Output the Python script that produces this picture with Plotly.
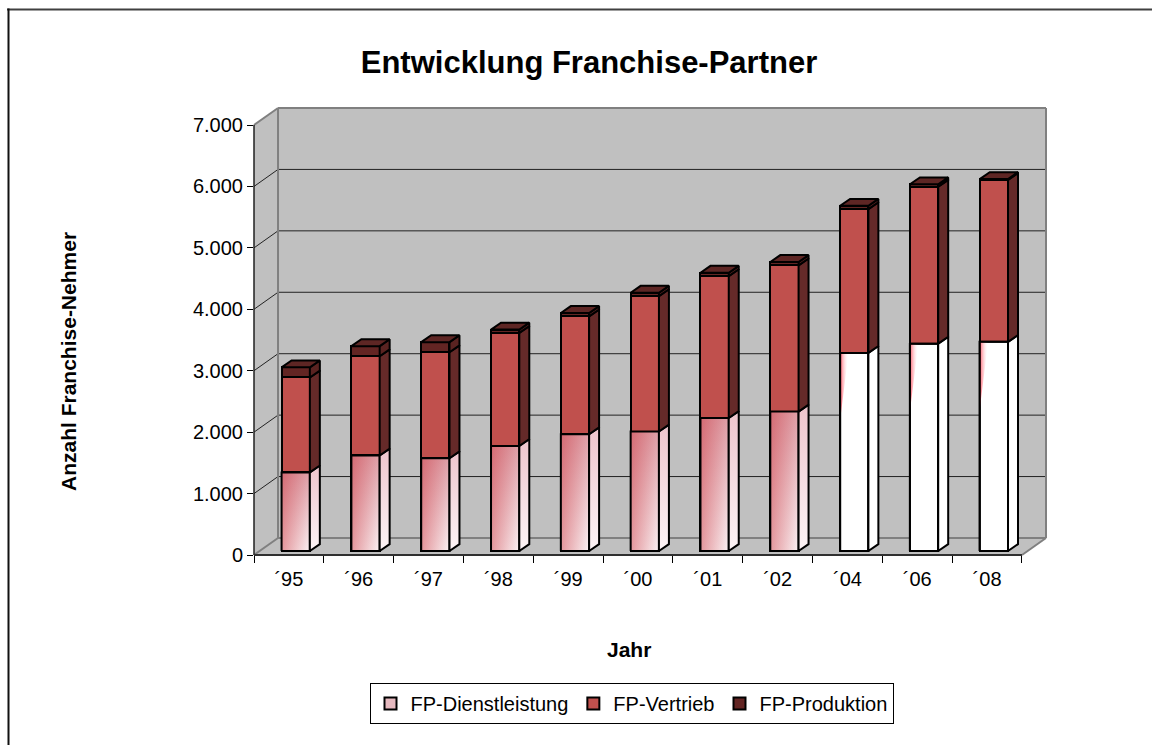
import plotly.graph_objects as go

# ---------------- data ----------------
years = ["´95", "´96", "´97", "´98", "´99", "´00", "´01", "´02", "´04", "´06", "´08"]
dienstleistung = [1280, 1555, 1510, 1710, 1900, 1945, 2165, 2270, 3225, 3375, 3405]
vertrieb = [1545, 1615, 1725, 1840, 1920, 2205, 2310, 2380, 2340, 2555, 2635]
produktion = [165, 165, 165, 55, 55, 55, 55, 55, 55, 40, 15]
series_names = ["FP-Dienstleistung", "FP-Vertrieb", "FP-Produktion"]
y_ticks = [0, 1000, 2000, 3000, 4000, 5000, 6000, 7000]

# face style of the Dienstleistung columns (gradient vs. plain white)
face_style = ["gradient"] * 8 + ["white"] * 3

# ---------------- geometry / style ----------------
FONT = "Liberation Sans, Arial, sans-serif"
W, H = 1152, 745
ML, MT = 254, 108
MR = W - 1046
MB = H - 555
PW, PH = W - ML - MR, H - MT - MB

XR = [-0.5, 10.844]          # category units (front plane)
YR = [0, 7277]               # value units (front plane)
LIFT = 65                    # bar plane is slightly behind the front plane
BAR_OFF, BAR_W = -0.105, 0.405
SDX, SDY = 0.143, 112        # bar depth (side / top faces)
DX, DY = 0.344, 277          # full box depth
FL, FR = -0.5, len(years) - 0.5
TOP = y_ticks[-1]

WALL = "#c0c0c0"
EDGE = "#808080"


def xp(u):
    return (u - XR[0]) / (XR[1] - XR[0])


def yp(v):
    return (v - YR[0]) / (YR[1] - YR[0])


def pgx(px):   # page pixel -> paper
    return (px - ML) / PW


def pgy(py):
    return (H - MB - py) / PH


def path(pts):
    return "M " + " L ".join(f"{xp(a):.5f},{yp(b):.5f}" for a, b in pts) + " Z"


def seg(a, b, color, width):
    return dict(type="line", xref="paper", yref="paper", layer="below",
                x0=xp(a[0]), y0=yp(a[1]), x1=xp(b[0]), y1=yp(b[1]),
                line=dict(color=color, width=width))


shapes = []
# walls
shapes.append(dict(type="path", xref="paper", yref="paper", layer="below",
                   path=path([(FL + DX, DY), (FR + DX, DY), (FR + DX, TOP + DY), (FL + DX, TOP + DY)]),
                   fillcolor=WALL, line=dict(width=0)))
shapes.append(dict(type="path", xref="paper", yref="paper", layer="below",
                   path=path([(FL, 0), (FL + DX, DY), (FL + DX, TOP + DY), (FL, TOP)]),
                   fillcolor=WALL, line=dict(width=0)))
shapes.append(dict(type="path", xref="paper", yref="paper", layer="below",
                   path=path([(FL, 0), (FR, 0), (FR + DX, DY), (FL + DX, DY)]),
                   fillcolor=WALL, line=dict(width=0)))
# gridlines
for v in y_ticks[1:-1]:
    shapes.append(seg((FL + DX, v + DY), (FR + DX, v + DY), "#222222", 1))
    shapes.append(seg((FL, v), (FL + DX, v + DY), "#222222", 1))
# grey edges
shapes.append(seg((FL + DX, TOP + DY), (FR + DX, TOP + DY), EDGE, 2))
shapes.append(seg((FR + DX, DY), (FR + DX, TOP + DY), EDGE, 2))
shapes.append(seg((FL + DX, DY), (FL + DX, TOP + DY), EDGE, 2))
shapes.append(seg((FL + DX, DY), (FR + DX, DY), EDGE, 2))
shapes.append(seg((FL, TOP), (FL + DX, TOP + DY), EDGE, 2))
shapes.append(seg((FL, 0), (FL + DX, DY), EDGE, 2))
shapes.append(seg((FR, 0), (FR + DX, DY), EDGE, 2))
# dark front edges
shapes.append(seg((FL, 0), (FL, TOP), "#202020", 1.5))
shapes.append(seg((FL, 0), (FR, 0), "#303030", 2))

# chart frame (top / left)
shapes.append(dict(type="line", xref="paper", yref="paper", layer="above",
                   x0=pgx(7), x1=pgx(W), y0=pgy(9.5), y1=pgy(9.5),
                   line=dict(color="#404040", width=2)))
shapes.append(dict(type="line", xref="paper", yref="paper", layer="above",
                   x0=pgx(8.5), x1=pgx(8.5), y0=pgy(8.5), y1=pgy(H),
                   line=dict(color="#111111", width=2)))

fig = go.Figure()

idx = list(range(len(years)))
d_colors = ["#e6b9bf" if s == "gradient" else "#ffffff" for s in face_style]

# front-plane category axis carrier (no visible marks)
fig.add_trace(go.Scatter(x=years, y=[None] * len(years), mode="lines",
                         showlegend=False, hoverinfo="skip"))

fig.add_trace(go.Bar(x=idx, y=dienstleistung, name=series_names[0],
                     marker=dict(color=d_colors, line=dict(color="black", width=2)),
                     offset=BAR_OFF, width=BAR_W, xaxis="x2", yaxis="y2",
                     hoverinfo="skip"))
fig.add_trace(go.Bar(x=idx, y=vertrieb, name=series_names[1],
                     marker=dict(color="#c0504d", line=dict(color="black", width=2)),
                     offset=BAR_OFF, width=BAR_W, xaxis="x2", yaxis="y2",
                     hoverinfo="skip"))
fig.add_trace(go.Bar(x=idx, y=produktion, name=series_names[2],
                     marker=dict(color="#632523", line=dict(color="black", width=2)),
                     offset=BAR_OFF, width=BAR_W, xaxis="x2", yaxis="y2",
                     hoverinfo="skip"))


def poly(xs, ys, **kw):
    return go.Scatter(x=xs, y=ys, mode="lines", fill="toself", xaxis="x2", yaxis="y2",
                      showlegend=False, hoverinfo="skip", **kw)


# gradient front faces of Dienstleistung
for i, d in enumerate(dienstleistung):
    xl = i + BAR_OFF
    xr = xl + BAR_W
    xs = [xl, xr, xr, xl, xl]
    ys = [0, 0, d, d, 0]
    if face_style[i] == "gradient":
        fig.add_trace(poly(xs, ys, line=dict(color="black", width=0.1),
                           fillgradient=dict(type="vertical", start=0, stop=d,
                                             colorscale=[[0, "rgb(250,242,244)"],
                                                         [1, "rgb(222,160,168)"]])))
        fig.add_trace(poly(xs, ys, line=dict(color="black", width=2),
                           fillgradient=dict(type="horizontal", start=xl, stop=xr,
                                             colorscale=[[0, "rgba(200,40,50,0.45)"],
                                                         [1, "rgba(200,40,50,0)"]])))
    else:
        fig.add_trace(poly(xs, ys, line=dict(color="black", width=2), fillcolor="white"))
        fig.add_trace(poly([xl, xl + 0.12, xl, xl], [d, d, d - 1100, d],
                           line=dict(width=0),
                           fillgradient=dict(type="horizontal", start=xl, stop=xl + 0.12,
                                             colorscale=[[0, "rgba(255,40,60,0.75)"],
                                                         [1, "rgba(255,255,255,0)"]])))
        fig.add_trace(go.Scatter(x=[xl, xl, xr, xr], y=[0, d, d, 0], mode="lines",
                                 line=dict(color="black", width=2), xaxis="x2", yaxis="y2",
                                 showlegend=False, hoverinfo="skip"))

# side faces
v_x, v_y, p_x, p_y, t_x, t_y = [], [], [], [], [], []
for i in idx:
    xr = i + BAR_OFF + BAR_W
    xl = i + BAR_OFF
    d = dienstleistung[i]
    v = d + vertrieb[i]
    t = v + produktion[i]
    sx = [xr, xr + SDX, xr + SDX, xr, xr]
    if face_style[i] == "gradient":
        fig.add_trace(poly(sx, [0, SDY, d + SDY, d, 0], line=dict(color="black", width=2),
                           fillgradient=dict(type="vertical", start=0, stop=d + SDY,
                                             colorscale=[[0, "rgb(252,244,246)"],
                                                         [1, "rgb(238,196,204)"]])))
    else:
        fig.add_trace(poly(sx, [0, SDY, d + SDY, d, 0], line=dict(color="black", width=2),
                           fillcolor="white"))
    v_x += sx + [None]
    v_y += [d, d + SDY, v + SDY, v, d, None]
    p_x += sx + [None]
    p_y += [v, v + SDY, t + SDY, t, v, None]
    t_x += [xl, xr, xr + SDX, xl + SDX, xl, None]
    t_y += [t, t, t + SDY, t + SDY, t, None]

fig.add_trace(poly(v_x, v_y, line=dict(color="black", width=2), fillcolor="#652a29"))
fig.add_trace(poly(p_x, p_y, line=dict(color="black", width=2), fillcolor="#5a2321"))
fig.add_trace(poly(t_x, t_y, line=dict(color="black", width=2), fillcolor="#5e2624"))

fig.update_layout(
    width=W, height=H,
    margin=dict(l=ML, r=MR, t=MT, b=MB, autoexpand=False),
    paper_bgcolor="white", plot_bgcolor="rgba(0,0,0,0)",
    barmode="stack",
    separators=",.",
    font=dict(family=FONT, size=20, color="black"),
    title=dict(text="<b>Entwicklung Franchise-Partner</b>",
               x=589 / W, y=1 - 62 / H,
               xanchor="center", yanchor="middle", font=dict(size=31, family=FONT)),
    xaxis=dict(type="category", categoryorder="array", categoryarray=years,
               range=XR, tickson="boundaries",
               ticks="outside", ticklen=7, tickwidth=1, tickcolor="black",
               ticklabelstandoff=10,
               showgrid=False, zeroline=False, showline=False,
               tickfont=dict(size=20, family=FONT), anchor="y"),
    yaxis=dict(range=YR, tickvals=y_ticks, tickformat=",d", ticks="outside", ticklen=6,
               tickwidth=1, tickcolor="black", showgrid=False, zeroline=False,
               showline=False, tickfont=dict(size=20, family=FONT), anchor="x"),
    xaxis2=dict(overlaying="x", range=XR, visible=False, anchor="y2"),
    yaxis2=dict(overlaying="y", range=[YR[0] - LIFT, YR[1] - LIFT], visible=False, anchor="x2"),
    showlegend=True,
    legend=dict(orientation="h", x=pgx(631.5), y=pgy(683),
                xanchor="center", yanchor="top", bordercolor="black", borderwidth=1,
                bgcolor="white", traceorder="normal", itemwidth=30,
                font=dict(size=20, family=FONT)),
    shapes=shapes,
    annotations=[
        dict(text="<b>Anzahl Franchise-Nehmer</b>", xref="paper", yref="paper",
             x=pgx(68), y=pgy(362), textangle=-90, showarrow=False,
             xanchor="center", yanchor="middle", font=dict(size=21, family=FONT)),
        dict(text="<b>Jahr</b>", xref="paper", yref="paper",
             x=pgx(629), y=pgy(649), showarrow=False,
             xanchor="center", yanchor="middle", font=dict(size=21, family=FONT)),
    ],
)

fig.write_html(
    "out.html",
    config={"displayModeBar": False},
    post_script="document.body.style.margin='0';document.body.style.overflow='hidden';",
)
